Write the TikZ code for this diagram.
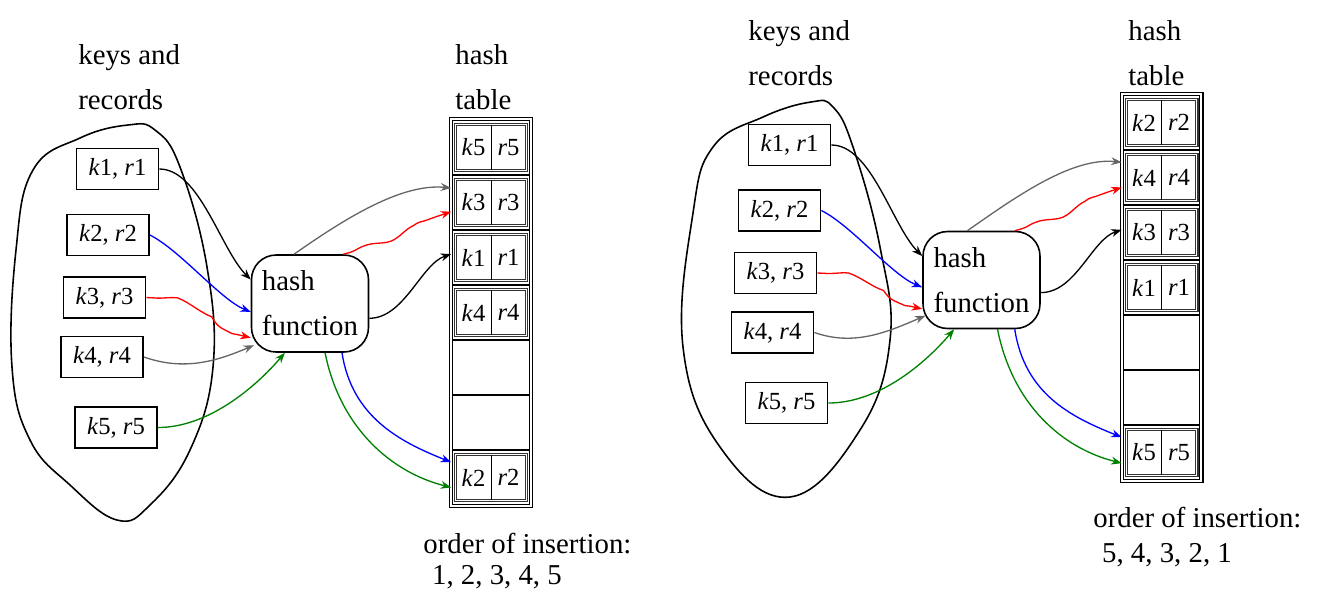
\documentclass[tikz,border=0pt]{standalone}
\usepackage{fontspec}
\setmainfont{Liberation Serif}
\usetikzlibrary{arrows.meta,decorations.pathmorphing}

\tikzset{
  txt/.style={font=\fontsize{16.4}{25.6}\selectfont,inner sep=0pt,align=left},
  keybox/.style={draw,line width=1pt,minimum width=1.64cm,minimum height=0.82cm,inner sep=0pt,font=\fontsize{14}{16}\selectfont},
  hashfn/.style={draw,line width=0.9pt,rounded corners=14pt,minimum width=2.34cm,minimum height=1.94cm,inner sep=0pt,align=left,font=\fontsize{16.4}{25.6}\selectfont},
  slot/.style={draw,line width=0.9pt,minimum width=1.56cm,minimum height=1.1cm,inner sep=0pt},
  half/.style={minimum width=0.7cm,minimum height=0.9cm,inner sep=0pt,font=\fontsize{14}{16}\selectfont},
  recframe/.style={draw=black!80,double=white,double distance=0.7pt,line width=0.6pt},
  tableframe/.style={draw=black,double=white,double distance=1.1pt,line width=0.7pt},
  link/.style={-{Stealth[length=6pt,width=4.5pt]},line width=0.75pt},
  wavy/.style={decorate,decoration={snake,amplitude=1.4pt,segment length=#1,pre length=4pt,post length=7pt}},
  wavy/.default=30pt,
  blob/.style={line width=0.9pt}
}

\begin{document}
\begin{tikzpicture}[x=0.02cm,y=-0.02cm]
  \useasboundingbox (0,0) rectangle (1317,606);

  % left: order 1, 2, 3, 4, 5
  \draw[blob] plot[smooth cycle,tension=0.7] coordinates {(33,170) (80,138) (128,125) (155,130) (180,167) (207,267) (213,367) (190,450) (150,505) (117,520) (70,485) (30,440) (12,367) (16,250)};
  \node[txt,anchor=north west] (lkeys) at (78,44) {keys and\\records};
  \node[keybox] (lkey1) at (117.5,169) {\textit{k}1, \textit{r}1};
  \node[keybox] (lkey2) at (108,235) {\textit{k}2, \textit{r}2};
  \node[keybox] (lkey3) at (104.5,297.5) {\textit{k}3, \textit{r}3};
  \node[keybox] (lkey4) at (102,357) {\textit{k}4, \textit{r}4};
  \node[keybox] (lkey5) at (116,427.5) {\textit{k}5, \textit{r}5};
  \node[hashfn] (lhf) at (310,303.5) {hash\\function};

  \node[txt,anchor=north west] (ltab) at (455,44) {hash\\table};
  \foreach \i in {1,...,7}
    \node[slot] (lslot\i) at (491,{92.5+55*\i}) {};
  \draw[tableframe] (lslot1.north west) rectangle (lslot7.south east);
  \foreach \i/\n in {1/5,2/3,3/1,4/4,7/2}{
    \node[half] (lreck\n) at ([xshift=-0.35cm]lslot\i.center) {\textit{k}\n};
    \node[half] (lrecr\n) at ([xshift=0.35cm]lslot\i.center) {\textit{r}\n};
    \draw[recframe] (lreck\n.north west) rectangle (lrecr\n.south east);
    \draw[line width=0.7pt] (lreck\n.north east) -- (lreck\n.south east);
  }
  \node[txt,anchor=north west,font=\fontsize{16.4}{17.5}\selectfont] (lorder) at (423,533) {order of insertion:\\\hspace*{5pt}1, 2, 3, 4, 5};

  \draw[link] (lkey1.east) .. controls +(40,0) and +(-30,-30) .. (lhf.158);
  \draw[link,blue] (lkey2.east) .. controls +(30,15) and +(-30,-12) .. (lhf.188);
  \draw[link,red,wavy=44pt] (lkey3.east) .. controls +(40,0) and +(-35,-5) .. (lhf.210);
  \draw[link,black!60,shorten >=-2pt] (lkey4.east) .. controls +(40,14) and +(-35,15) .. (lhf.216);
  \draw[link,green!50!black] (lkey5.east) .. controls +(50,0) and +(-30,35) .. (lhf.243);
  \draw[link,black!60] (lhf.108) .. controls +(50,-35) and +(-50,-5) .. (lslot2.160);
  \draw[link,red,wavy] (lhf.56) .. controls +(40,-10) and +(-40,12) .. (lslot2.193);
  \draw[link] (lhf.346) .. controls +(35,0) and +(-30,10) .. (lslot3.175);
  \draw[link,blue] (lhf.303) .. controls +(10,65) and +(-50,-20) .. (lslot7.159);
  \draw[link,green!50!black] (lhf.287) .. controls +(15,75) and +(-60,-15) .. (lslot7.194);

  % right: order 5, 4, 3, 2, 1
  \draw[blob] plot[smooth cycle,tension=0.7] coordinates {(713,147) (763,117) (811,102) (833,107) (853,147) (880,247) (890,340) (860,430) (790,497) (720,447) (683,347) (693,213)};
  \node[txt,anchor=north west] (rkeys) at (748,20) {keys and\\records};
  \node[keybox] (rkey1) at (789.5,145) {\textit{k}1, \textit{r}1};
  \node[keybox] (rkey2) at (779.5,210.5) {\textit{k}2, \textit{r}2};
  \node[keybox] (rkey3) at (775.5,273) {\textit{k}3, \textit{r}3};
  \node[keybox] (rkey4) at (772.5,332.5) {\textit{k}4, \textit{r}4};
  \node[keybox] (rkey5) at (786.5,403) {\textit{k}5, \textit{r}5};
  \node[hashfn] (rhf) at (981.5,280) {hash\\function};

  \node[txt,anchor=north west] (rtab) at (1128,20) {hash\\table};
  \foreach \i in {1,...,7}
    \node[slot] (rslot\i) at (1161.5,{67.5+55*\i}) {};
  \draw[tableframe] (rslot1.north west) rectangle (rslot7.south east);
  \foreach \i/\n in {1/2,2/4,3/3,4/1,7/5}{
    \node[half] (rreck\n) at ([xshift=-0.35cm]rslot\i.center) {\textit{k}\n};
    \node[half] (rrecr\n) at ([xshift=0.35cm]rslot\i.center) {\textit{r}\n};
    \draw[recframe] (rreck\n.north west) rectangle (rrecr\n.south east);
    \draw[line width=0.7pt] (rreck\n.north east) -- (rreck\n.south east);
  }
  \node[txt,anchor=north west,font=\fontsize{16.4}{20}\selectfont] (rorder) at (1093,507) {order of insertion:\\\hspace*{5pt}5, 4, 3, 2, 1};

  \draw[link] (rkey1.east) .. controls +(40,0) and +(-30,-30) .. (rhf.158);
  \draw[link,blue] (rkey2.east) .. controls +(30,15) and +(-30,-12) .. (rhf.187);
  \draw[link,red,wavy=44pt] (rkey3.east) .. controls +(40,0) and +(-35,-5) .. (rhf.206);
  \draw[link,black!60,shorten >=-2pt] (rkey4.east) .. controls +(40,14) and +(-35,15) .. (rhf.212);
  \draw[link,green!50!black] (rkey5.east) .. controls +(50,0) and +(-30,35) .. (rhf.241);
  \draw[link,black!60] (rhf.106) .. controls +(50,-35) and +(-50,-5) .. (rslot2.159);
  \draw[link,red,wavy] (rhf.56) .. controls +(40,-10) and +(-40,12) .. (rslot2.194);
  \draw[link] (rhf.348) .. controls +(35,0) and +(-30,10) .. (rslot3.176);
  \draw[link,blue] (rhf.304) .. controls +(10,65) and +(-50,-20) .. (rslot7.159);
  \draw[link,green!50!black] (rhf.288) .. controls +(15,75) and +(-60,-15) .. (rslot7.195);
\end{tikzpicture}
\end{document}
